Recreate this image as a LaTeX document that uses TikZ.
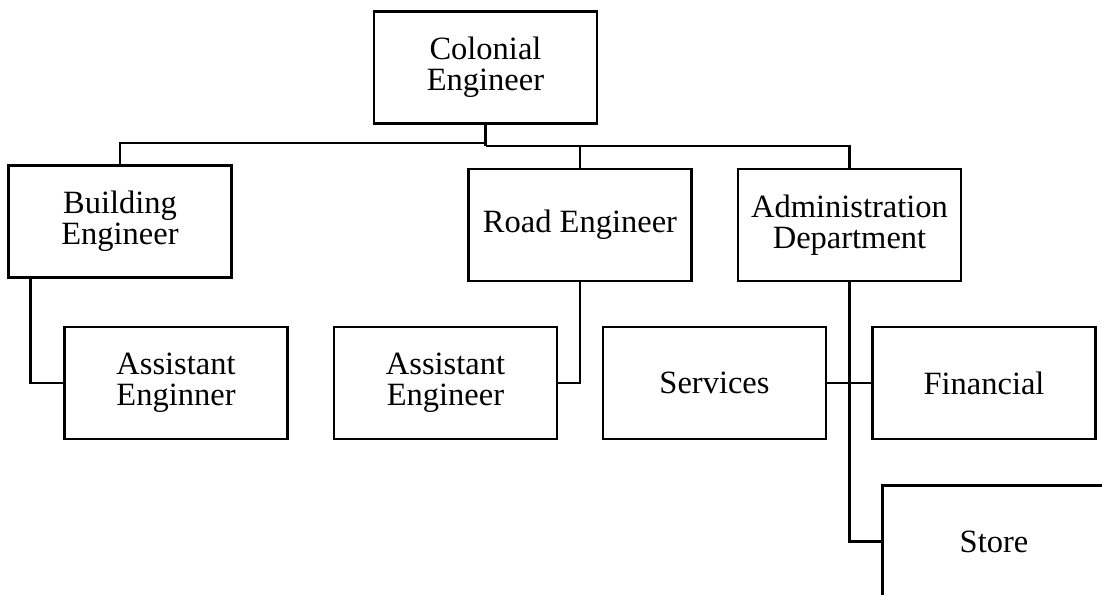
\documentclass[tikz,border=0pt]{standalone}
\usepackage{fontspec}
\setmainfont{Liberation Serif}
\begin{document}
\begin{tikzpicture}[x=1pt,y=-1pt,
  orgbox/.style={draw,line width=2.2pt,minimum width=223pt,minimum height=112pt,inner sep=0pt,align=center,
    font=\fontsize{32.5}{31}\selectfont},
  link/.style={line width=2.2pt}]
\useasboundingbox (0,0) rectangle (1102,594);
\clip (0,0) rectangle (1102,594);
\node[orgbox] (CE) at (485.5,67.5) {Colonial\\Engineer};
\node[orgbox] (BE) at (120,221.5) {Building\\Engineer};
\node[orgbox] (RE) at (580,225) {Road Engineer};
\node[orgbox] (AD) at (849.5,225) {Administration\\Department};
\node[orgbox] (AE1) at (176,383) {Assistant\\Enginner};
\node[orgbox] (AE2) at (445.5,383) {Assistant\\Engineer};
\node[orgbox] (SV) at (714.5,383) {Services};
\node[orgbox] (FN) at (984,383) {Financial};
\node[orgbox] (ST) at (994,541.5) {Store};
\coordinate (j1) at (485.5,143);
\coordinate (j2) at (485.5,146);
\draw[link] (CE.south) -- (j2);
\draw[link] (j1) -| (BE.north);
\draw[link] (j2) -| (AD.north);
\draw[link] (RE.north) -- (RE.north |- j2);
\draw[link] ([xshift=23pt]BE.south west) |- (AE1.west);
\draw[link] (RE.south) |- (AE2.east);
\draw[link] (AD.south) |- (ST.west);
\draw[link] (SV.east) -- (FN.west);
\end{tikzpicture}
\end{document}
